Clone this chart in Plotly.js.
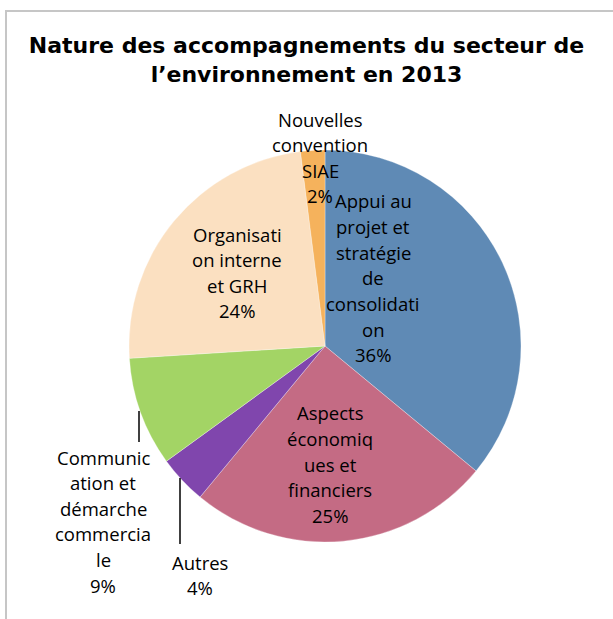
<!DOCTYPE html>
<html>
<head>
<meta charset="utf-8">
<script src="https://cdn.plot.ly/plotly-3.0.1.min.js"></script>
<style>
  html, body { margin: 0; padding: 0; background: #fff; }
  #chart { width: 613px; height: 619px; }
</style>
</head>
<body>
<div id="chart"></div>
<script>
// slices, clockwise from 12 o'clock
var categories = [
  'Appui au projet et stratégie de consolidation',
  'Aspects économiques et financiers',
  'Autres',
  'Communication et démarche commerciale',
  'Organisation interne et GRH',
  'Nouvelles convention SIAE'
];
var values = [36, 25, 4, 9, 24, 2];
// label text as wrapped in the original
var labelLines = [
  ['Appui au', 'projet et', 'stratégie', 'de', 'consolidati', 'on'],
  ['Aspects', 'économiq', 'ues et', 'financiers'],
  ['Autres'],
  ['Communic', 'ation et', 'démarche', 'commercia', 'le'],
  ['Organisati', 'on interne', 'et GRH'],
  ['Nouvelles', 'convention', 'SIAE']
];
var colors = ['#5F8AB5', '#C46B84', '#8046AD', '#A3D465', '#FBE0C1', '#F5B25C'];

var W = 613, H = 619;
// label block: center x, first line center y (pixels)
var labelPos = [
  [373, 201],
  [330, 413],
  [200, 562],
  [103, 457],
  [237, 234],
  [320, 119]
];
var lineH = 25.6;

var total = values.reduce(function (a, b) { return a + b; }, 0);
var annotations = [];
labelLines.forEach(function (lines, i) {
  var all = lines.concat([Math.round(values[i] / total * 100) + '%']);
  all.forEach(function (t, k) {
    annotations.push({
      xref: 'paper', yref: 'paper',
      x: labelPos[i][0] / W,
      y: 1 - (labelPos[i][1] + k * lineH) / H,
      xanchor: 'center', yanchor: 'middle',
      text: t, showarrow: false,
      font: { family: 'Open Sans, sans-serif', size: 18.5, color: '#000' }
    });
  });
});

var trace = {
  type: 'pie',
  labels: categories,
  values: values,
  sort: false,
  direction: 'clockwise',
  rotation: 0,
  textinfo: 'none',
  hoverinfo: 'label+percent',
  marker: { colors: colors, line: { color: 'rgba(255,255,255,0.6)', width: 0.5 } },
  domain: { x: [129 / W, 521 / W], y: [(H - 542) / H, (H - 150) / H] },
  showlegend: false
};

var layout = {
  width: W,
  height: H,
  margin: { l: 0, r: 0, t: 0, b: 0 },
  paper_bgcolor: '#fff',
  title: {
    text: 'Nature des accompagnements du secteur de<br>l\u2019environnement en 2013',
    font: { family: 'DejaVu Sans', size: 22, color: '#000', weight: 'bold' },
    x: 0.5, xanchor: 'center',
    y: 1 - 53 / H, yanchor: 'middle'
  },
  shapes: [
    { type: 'rect', xref: 'paper', yref: 'paper',
      x0: 6 / W, x1: 1.02, y0: -0.02, y1: 1 - 11 / H,
      line: { color: '#C6C6C6', width: 2 } },
    { type: 'line', xref: 'paper', yref: 'paper',
      x0: 139 / W, x1: 139 / W, y0: 1 - 411 / H, y1: 1 - 442 / H,
      line: { color: '#000', width: 1.5 } },
    { type: 'line', xref: 'paper', yref: 'paper',
      x0: 180 / W, x1: 180 / W, y0: 1 - 478 / H, y1: 1 - 544 / H,
      line: { color: '#000', width: 1.5 } }
  ],
  annotations: annotations
};

Plotly.newPlot('chart', [trace], layout, { displayModeBar: false, staticPlot: true });
</script>
</body>
</html>
